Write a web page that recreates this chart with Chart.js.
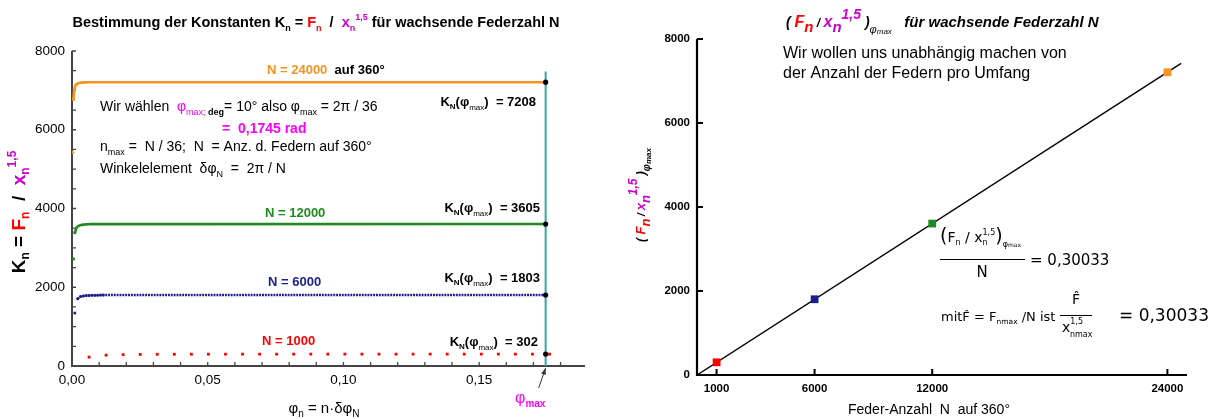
<!DOCTYPE html>
<html><head><meta charset="utf-8">
<script src="https://cdn.jsdelivr.net/npm/chart.js@4/dist/chart.umd.min.js"></script>
<style>
html,body{margin:0;padding:0;background:#fff;width:1223px;height:419px;overflow:hidden}
#c1{position:absolute;left:0;top:0}
#c2{position:absolute;left:620px;top:0}
</style></head><body>
<canvas id="c1" width="620" height="419"></canvas>
<canvas id="c2" width="603" height="419"></canvas>
<script>
// ---------------- data ----------------
const springCounts = [1000, 6000, 12000, 24000];        // N
const kAtPhiMax   = [302, 1803, 3605, 7208];            // K_N(phi_max)
const phiMax = 0.1745;                                  // rad
const phiLineTop = 7480;                                // top of the phi_max marker line
// K_n read for n = 1,2,3,... (phi_n = n*2pi/N)
const k1000  = [225,275,288,294,297,298,299,300,300,301,301,301,301,302,302,302,302,302,302,302,302,302,302,302,302,302,302,302];
const k6000  = [1349,1705,1763,1780,1788,1793,1796,1798,1800,1801,1802];
const k12000 = [2720,3384,3500,3545,3565,3577,3585,3590,3594,3597,3599,3601,3602,3603,3604];
const k24000 = [5420,6770,7010,7090,7130,7152,7166,7175,7182,7187,7191,7194,7197,7199,7201,7202,7203,7204,7205,7206,7207];
const leftXTicks  = [0, 0.05, 0.10, 0.15];
const leftYTicks  = [0, 2000, 4000, 6000, 8000];
const rightXTicks = [1000, 6000, 12000, 24000];
const rightYTicks = [0, 2000, 4000, 6000, 8000];
const fitLineN = [0, 24700];
const fitLineK = [0, 7418];

// ---------------- styles ----------------
const FONT = "'Liberation Sans', Arial, sans-serif";
const MATH = "'DejaVu Sans', sans-serif";
const C_RED = '#ff0000', C_BLUE = '#1c1c8c', C_GREEN = '#1f8a1f', C_ORANGE = '#f7931e';
const C_MAG = '#ff00ff', C_PURP = '#cc00cc', C_TEAL = '#38a5a5';
const seriesColors = [C_RED, C_BLUE, C_GREEN, C_ORANGE];

function springSeries(N, values, kEnd) {
  const d = values.map((k, i) => ({x: (i + 1) * 2 * Math.PI / N, y: k}));
  if (kEnd !== undefined) d.push({x: phiMax, y: kEnd});
  return d;
}
function rich(ctx, x, y, parts, align) {
  let w = 0;
  for (const p of parts) { ctx.font = p.f; w += (p.ox || 0) + ctx.measureText(p.t).width; }
  let cx = align === 'center' ? x - w / 2 : align === 'right' ? x - w : x;
  ctx.textAlign = 'left'; ctx.textBaseline = 'alphabetic';
  for (const p of parts) {
    ctx.font = p.f; ctx.fillStyle = p.c || '#000';
    cx += (p.ox || 0);
    ctx.fillText(p.t, cx, y + (p.dy || 0));
    cx += ctx.measureText(p.t).width;
  }
  return w;
}
const fb = s => 'bold ' + s + 'px ' + FONT;
const fr = s => s + 'px ' + FONT;
const fbi = s => 'italic bold ' + s + 'px ' + FONT;
const fi = s => 'italic ' + s + 'px ' + FONT;
const fm = s => s + 'px ' + MATH;

// ---------------- left chart ----------------
const lineSeg = col => ({borderColor: c => c.p0DataIndex === 0 ? 'rgba(0,0,0,0)' : col});
const leftPlugin = {
  id: 'leftDeco',
  beforeDatasetsDraw(chart) {
    const {ctx, chartArea: a, scales: {x, y}} = chart;
    ctx.save();
    ctx.strokeStyle = '#444'; ctx.lineWidth = 2;
    ctx.beginPath(); ctx.moveTo(a.left, a.top); ctx.lineTo(a.left, a.bottom); ctx.lineTo(a.right, a.bottom); ctx.stroke();
    ctx.lineWidth = 1.3; ctx.beginPath();
    for (let i = 1; i <= 18; i++) { const px = x.getPixelForValue(i * 0.01); ctx.moveTo(px, a.bottom); ctx.lineTo(px, a.bottom - 4); }
    for (let i = 1; i <= 16; i++) { const py = y.getPixelForValue(i * 500); ctx.moveTo(a.left, py); ctx.lineTo(a.left + 4, py); }
    ctx.stroke();
    ctx.restore();
  },
  afterDraw(chart) {
    const {ctx, chartArea: a, scales: {x, y}} = chart;
    ctx.save();
    // title
    rich(ctx, 316, 27, [
      {t: 'Bestimmung der Konstanten K', f: fb(14.5)}, {t: 'n', f: fb(9), dy: 4},
      {t: ' = ', f: fb(14.5)}, {t: 'F', f: fb(14.5), c: C_RED}, {t: 'n', f: fb(9), dy: 4, c: C_RED},
      {t: '  /  ', f: fb(14.5)}, {t: 'x', f: fb(14.5), c: C_PURP}, {t: 'n', f: fb(9), dy: 4, c: C_PURP},
      {t: '1,5', f: fb(9), dy: -7, c: C_PURP}, {t: ' für wachsende Federzahl N', f: fb(14.5)}], 'center');
    // y title (rotated)
    ctx.save(); ctx.translate(25, 212); ctx.rotate(-Math.PI / 2);
    rich(ctx, 0, 0, [
      {t: 'K', f: fb(19)}, {t: 'n', f: fb(12), dy: 4}, {t: ' = ', f: fb(19)},
      {t: 'F', f: fb(19), c: C_RED}, {t: 'n', f: fb(12), dy: 4, c: C_RED}, {t: '  /  ', f: fb(19)},
      {t: 'x', f: fb(19), c: C_PURP}, {t: 'n', f: fb(12), dy: 4, c: C_PURP}, {t: '1,5', f: fb(12), dy: -9, c: C_PURP}], 'center');
    ctx.restore();
    // x title
    rich(ctx, 324, 413, [
      {t: 'φ', f: fr(15)}, {t: 'n', f: fr(10), dy: 4}, {t: ' = n·δφ', f: fr(15)}, {t: 'N', f: fr(10), dy: 4}], 'center');
    // series labels
    rich(ctx, 267, 74, [{t: 'N = 24000', f: fb(13), c: C_ORANGE}, {t: '  auf 360°', f: fb(13)}]);
    rich(ctx, 265, 217, [{t: 'N = 12000', f: fb(13), c: C_GREEN}]);
    rich(ctx, 268, 286, [{t: 'N = 6000', f: fb(13), c: C_BLUE}]);
    rich(ctx, 262, 345, [{t: 'N = 1000', f: fb(13), c: C_RED}]);
    // K_N labels
    const kl = [[7208, 106, 536], [3605, 212, 540], [1803, 282, 540], [302, 346, 538]];
    for (const [v, by, rx] of kl) {
      rich(ctx, rx, by, [{t: 'K', f: fb(13)}, {t: 'N', f: fb(8), dy: 3}, {t: '(φ', f: fb(13)},
        {t: 'max', f: fr(8), dy: 4}, {t: ')  = ' + v, f: fb(13)}], 'right');
    }
    // explanation text
    rich(ctx, 100, 111, [{t: 'Wir wählen  ', f: fr(14)}, {t: 'φ', f: fr(14), c: C_MAG},
      {t: 'max; ', f: fr(9), dy: 4, c: C_MAG}, {t: 'deg', f: fb(9), dy: 4}, {t: '= 10° also φ', f: fr(14)},
      {t: 'max', f: fr(9), dy: 4}, {t: ' = 2π / 36', f: fr(14)}]);
    rich(ctx, 222, 133, [{t: '=  0,1745 rad', f: fb(14), c: C_MAG}]);
    rich(ctx, 100, 151, [{t: 'n', f: fr(14)}, {t: 'max', f: fr(9), dy: 4}, {t: ' =  N / 36;  N  = Anz. d. Federn auf 360°', f: fr(14)}]);
    rich(ctx, 100, 173, [{t: 'Winkelelement  δφ', f: fr(14)}, {t: 'N', f: fr(9), dy: 4}, {t: '  =  2π / N', f: fr(14)}]);
    // phi_max arrow
    const px = x.getPixelForValue(phiMax);
    const sx = px - 7, sy = a.bottom + 22, ex = px, ey = a.bottom + 2;
    ctx.strokeStyle = '#333'; ctx.fillStyle = '#333'; ctx.lineWidth = 1;
    ctx.beginPath(); ctx.moveTo(sx, sy); ctx.lineTo(ex, ey); ctx.stroke();
    const ang = Math.atan2(ey - sy, ex - sx);
    ctx.beginPath(); ctx.moveTo(ex, ey);
    ctx.lineTo(ex - 7 * Math.cos(ang - 0.35), ey - 7 * Math.sin(ang - 0.35));
    ctx.lineTo(ex - 7 * Math.cos(ang + 0.35), ey - 7 * Math.sin(ang + 0.35)); ctx.closePath(); ctx.fill();
    rich(ctx, 515, 403, [{t: 'φ', f: fr(16), c: C_MAG}, {t: 'max', f: fb(10), dy: 4, c: C_MAG}]);
    ctx.restore();
  }
};

new Chart(document.getElementById('c1'), {
  type: 'scatter',
  data: {datasets: [
    {data: kAtPhiMax.map(k => ({x: phiMax, y: k})), pointRadius: 2.6, pointBackgroundColor: '#000', pointBorderWidth: 0, order: 0},
    {data: springSeries(springCounts[3], k24000, kAtPhiMax[3]), showLine: true, borderColor: C_ORANGE, borderWidth: 2.6,
      pointRadius: c => c.dataIndex < 2 ? 1.6 : 0, pointBackgroundColor: C_ORANGE, pointBorderWidth: 0, segment: lineSeg(C_ORANGE), order: 2},
    {data: springSeries(springCounts[2], k12000, kAtPhiMax[2]), showLine: true, borderColor: C_GREEN, borderWidth: 2.6,
      pointRadius: c => c.dataIndex < 2 ? 1.6 : 0, pointBackgroundColor: C_GREEN, pointBorderWidth: 0, segment: lineSeg(C_GREEN), order: 2},
    {data: springSeries(springCounts[1], k6000, kAtPhiMax[1]), showLine: true, borderColor: C_BLUE, borderWidth: 2.4, borderDash: [1.9, 0.95],
      pointRadius: c => c.dataIndex < k6000.length ? 1.5 : 0, pointBackgroundColor: C_BLUE, pointBorderWidth: 0, segment: lineSeg(C_BLUE), order: 2},
    {data: springSeries(springCounts[0], k1000), showLine: false, pointStyle: 'rect', pointRadius: 2,
      pointBackgroundColor: C_RED, pointBorderWidth: 0, order: 2},
    {data: [{x: phiMax, y: 0}, {x: phiMax, y: phiLineTop}], showLine: true, borderColor: C_TEAL, borderWidth: 2, pointRadius: 0, order: 5}
  ]},
  options: {
    responsive: false, animation: false, events: [],
    layout: {padding: {left: 0, right: 35, top: 51, bottom: 0}},
    plugins: {legend: {display: false}, tooltip: {enabled: false}},
    scales: {
      x: {type: 'linear', min: 0, max: 0.189,
        afterBuildTicks: s => { s.ticks = leftXTicks.map(v => ({value: v})); },
        afterFit: s => { s.height = 53; },
        ticks: {callback: v => v.toFixed(2).replace('.', ','), font: {family: FONT, size: 13.5}, color: '#000', padding: 6, maxRotation: 0, autoSkip: false},
        grid: {display: false, drawTicks: false}, border: {display: false}},
      y: {type: 'linear', min: 0, max: 8000,
        afterBuildTicks: s => { s.ticks = leftYTicks.map(v => ({value: v})); },
        afterFit: s => { s.width = 72; },
        ticks: {callback: v => String(v), font: {family: FONT, size: 13.5}, color: '#000', padding: 7, autoSkip: false},
        grid: {display: false, drawTicks: false}, border: {display: false}}
    }
  },
  plugins: [leftPlugin]
});

// ---------------- right chart ----------------
const rightPlugin = {
  id: 'rightDeco',
  beforeDatasetsDraw(chart) {
    const {ctx, chartArea: a, scales: {x, y}} = chart;
    ctx.save();
    ctx.strokeStyle = '#000'; ctx.lineWidth = 2.2;
    ctx.beginPath(); ctx.moveTo(a.left, a.top); ctx.lineTo(a.left, a.bottom); ctx.lineTo(a.right, a.bottom); ctx.stroke();
    ctx.lineWidth = 2; ctx.beginPath();
    for (const v of rightXTicks) { const px = x.getPixelForValue(v); ctx.moveTo(px, a.bottom); ctx.lineTo(px, a.bottom - 6); }
    for (const v of rightYTicks) { const py = y.getPixelForValue(v); ctx.moveTo(a.left, py); ctx.lineTo(a.left + 6, py); }
    ctx.stroke();
    ctx.restore();
  },
  afterDraw(chart) {
    const {ctx} = chart;
    ctx.save();
    // title
    rich(ctx, 166, 27, [
      {t: '( ', f: fbi(14)}, {t: 'F', f: fbi(16), c: C_RED}, {t: 'n', f: fbi(15), dy: 5, c: C_RED},
      {t: ' / ', f: fbi(12)}, {t: 'x', f: fbi(16), c: C_PURP}, {t: 'n', f: fbi(15), dy: 5, c: C_PURP},
      {t: '1,5', f: fbi(14), dy: -8, c: C_PURP}, {t: ' )', f: fbi(14)}, {t: 'φ', f: fi(11), dy: 6}, {t: 'max', f: fi(8), dy: 7},
      {t: '   für wachsende Federzahl N', f: fbi(15)}]);
    rich(ctx, 163, 58, [{t: 'Wir wollen uns unabhängig machen von', f: fr(16)}]);
    rich(ctx, 163, 78, [{t: 'der Anzahl der Federn pro Umfang', f: fr(16)}]);
    // y title rotated
    ctx.save(); ctx.translate(25, 195); ctx.rotate(-Math.PI / 2);
    rich(ctx, 0, 0, [
      {t: '( ', f: fbi(12)}, {t: 'F', f: fbi(13), c: C_RED}, {t: 'n', f: fbi(13), dy: 5, c: C_RED},
      {t: ' / ', f: fbi(10)}, {t: 'x', f: fbi(13), c: C_PURP}, {t: 'n', f: fbi(13), dy: 5, c: C_PURP},
      {t: '1,5', f: fbi(12), dy: -8, c: C_PURP}, {t: ' )', f: fbi(12)}, {t: 'φ', f: fbi(10), dy: 5}, {t: 'max', f: fbi(8), dy: 6}], 'center');
    ctx.restore();
    // x title
    rich(ctx, 309, 414, [{t: 'Feder-Anzahl  N  auf 360°', f: fr(14)}], 'center');
    // formula 1
    ctx.fillStyle = '#000';
    rich(ctx, 320, 242, [{t: '(', f: fm(19)}, {t: 'F', f: fm(14)}, {t: 'n', f: fm(8), dy: 3}, {t: ' / ', f: fm(14)},
      {t: 'x', f: fm(14)}, {t: 'n', f: fm(8), dy: 3}, {t: '1,5', f: fm(8), dy: -7, ox: -5}, {t: ')', f: fm(19)},
      {t: 'φ', f: fm(8), dy: 5}, {t: 'max', f: fm(6), dy: 5}]);
    ctx.lineWidth = 1; ctx.strokeStyle = '#000';
    ctx.beginPath(); ctx.moveTo(320, 259.5); ctx.lineTo(405, 259.5); ctx.stroke();
    rich(ctx, 362, 277, [{t: 'N', f: fm(15)}], 'center');
    rich(ctx, 410, 265, [{t: '= 0,30033', f: fm(15)}]);
    // formula 2
    rich(ctx, 321, 321, [{t: 'mitF\u0302 = F', f: fm(13)}, {t: 'nmax', f: fm(7.5), dy: 3}, {t: ' /N ist', f: fm(13)}]);
    rich(ctx, 456, 304, [{t: 'F\u0302', f: fm(14)}], 'center');
    ctx.beginPath(); ctx.moveTo(440, 315.5); ctx.lineTo(472, 315.5); ctx.stroke();
    rich(ctx, 442, 332, [{t: 'x', f: fm(14)}, {t: '1,5', f: fm(8), dy: -8}]);
    rich(ctx, 450, 337, [{t: 'nmax', f: fm(8)}]);
    rich(ctx, 499, 321, [{t: '= 0,30033', f: fm(17)}]);
    ctx.restore();
  }
};

new Chart(document.getElementById('c2'), {
  type: 'scatter',
  data: {datasets: [
    {data: springCounts.map((n, i) => ({x: n, y: kAtPhiMax[i]})), pointStyle: 'rect', pointRadius: 5.5,
      pointBackgroundColor: seriesColors, pointBorderWidth: 0, order: 0},
    {data: fitLineN.map((n, i) => ({x: n, y: fitLineK[i]})), showLine: true, borderColor: '#000', borderWidth: 1.4, pointRadius: 0, order: 1}
  ]},
  options: {
    responsive: false, animation: false, events: [],
    layout: {padding: {left: 0, right: 36, top: 39, bottom: 0}},
    plugins: {legend: {display: false}, tooltip: {enabled: false}},
    scales: {
      x: {type: 'linear', min: 0, max: 25000,
        afterBuildTicks: s => { s.ticks = rightXTicks.map(v => ({value: v})); },
        afterFit: s => { s.height = 44; },
        ticks: {callback: v => String(v), font: {family: FONT, size: 11.5, weight: 'bold'}, color: '#000', padding: 7, maxRotation: 0, autoSkip: false},
        grid: {display: false, drawTicks: false}, border: {display: false}},
      y: {type: 'linear', min: 0, max: 8000,
        afterBuildTicks: s => { s.ticks = rightYTicks.map(v => ({value: v})); },
        afterFit: s => { s.width = 77; },
        ticks: {callback: v => String(v), font: {family: FONT, size: 11.5, weight: 'bold'}, color: '#000', padding: 7, autoSkip: false},
        grid: {display: false, drawTicks: false}, border: {display: false}}
    }
  },
  plugins: [rightPlugin]
});
</script>
</body></html>
